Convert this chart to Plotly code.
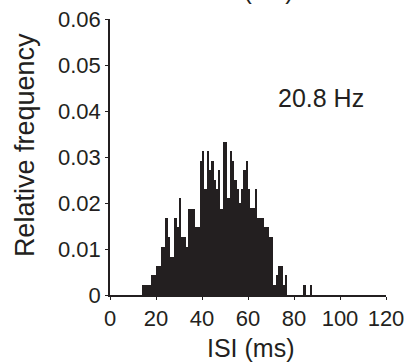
import plotly.graph_objects as go

# ISI histogram (1-ms bins, left edges in ms) and relative frequencies
bin_left = list(range(14, 78)) + [84, 87]
rel_freq = [
    0.0022, 0.0022, 0.0022, 0.0022,          # 14-17
    0.0043, 0.0043,                          # 18-19
    0.0063, 0.0063,                          # 20-21
    0.0105, 0.0105,                          # 22-23
    0.0167, 0.0126, 0.0083, 0.0083,          # 24-27
    0.0167, 0.0148, 0.0210, 0.0127,          # 28-31
    0.0127, 0.0105, 0.0188, 0.0188,          # 32-35
    0.0188, 0.0148, 0.0148, 0.0292,          # 36-39
    0.0314, 0.0230, 0.0314, 0.0272,          # 40-43
    0.0292, 0.0250, 0.0230, 0.0272,          # 44-47
    0.0188, 0.0333, 0.0333, 0.0210,          # 48-51
    0.0314, 0.0292, 0.0250, 0.0230,          # 52-55
    0.0200, 0.0230, 0.0272, 0.0292,          # 56-59
    0.0230, 0.0189, 0.0189, 0.0230,          # 60-63
    0.0167, 0.0167, 0.0167, 0.0148,          # 64-67
    0.0148, 0.0127, 0.0127, 0.0022,          # 68-71
    0.0043, 0.0063, 0.0063, 0.0022,          # 72-75
    0.0043, 0.0000,                          # 76-77
    0.0022, 0.0022,                          # 84, 87
]
bin_width = 1.0
rate_label = "20.8 Hz"
x_title = "ISI (ms)"
y_title = "Relative frequency"
x_ticks = [0, 20, 40, 60, 80, 100, 120]
y_ticks = [0, 0.01, 0.02, 0.03, 0.04, 0.05, 0.06]

ink = "#231f20"
font = "Liberation Sans, Arial, sans-serif"

fig = go.Figure()
fig.add_trace(go.Bar(
    x=[b + bin_width / 2 for b in bin_left],
    y=rel_freq,
    width=bin_width,
    marker=dict(color=ink, line=dict(width=0)),
    showlegend=False,
))

fig.update_layout(
    width=414, height=362,
    margin=dict(l=110, r=28, t=19, b=67, autoexpand=False),
    paper_bgcolor="white", plot_bgcolor="white",
    bargap=0,
    font=dict(family=font, color=ink, size=22),
    xaxis=dict(
        range=[0, 120], tickvals=x_ticks, ticktext=[str(v) for v in x_ticks],
        showline=True, linecolor=ink, linewidth=1.5,
        ticks="outside", ticklen=3, tickcolor=ink, tickwidth=1,
        showgrid=False, zeroline=False, automargin=False,
        tickfont=dict(size=22),
    ),
    yaxis=dict(
        range=[0, 0.06], tickvals=y_ticks,
        ticktext=["0", "0.01", "0.02", "0.03", "0.04", "0.05", "0.06"],
        showline=True, linecolor=ink, linewidth=1.5,
        ticks="outside", ticklen=3, tickcolor=ink, tickwidth=1,
        showgrid=False, zeroline=False, automargin=False,
        tickfont=dict(size=22),
    ),
    annotations=[
        dict(text=x_title, xref="paper", yref="paper", x=0.511, y=-0.192,
             xanchor="center", yanchor="middle", showarrow=False,
             font=dict(size=25, color=ink)),
        dict(text=y_title, xref="paper", yref="paper", x=-0.308, y=0.543,
             xanchor="center", yanchor="middle", showarrow=False, textangle=-90,
             font=dict(size=27, color=ink)),
        dict(text=rate_label, xref="paper", yref="paper", x=0.60, y=0.715,
             xanchor="left", yanchor="middle", showarrow=False,
             font=dict(size=25, color=ink)),
        dict(text=x_title, xref="paper", yref="paper", x=0.507, y=1.105,
             xanchor="center", yanchor="middle", showarrow=False,
             font=dict(size=25, color=ink)),
    ],
)

fig.write_html("out.html")
